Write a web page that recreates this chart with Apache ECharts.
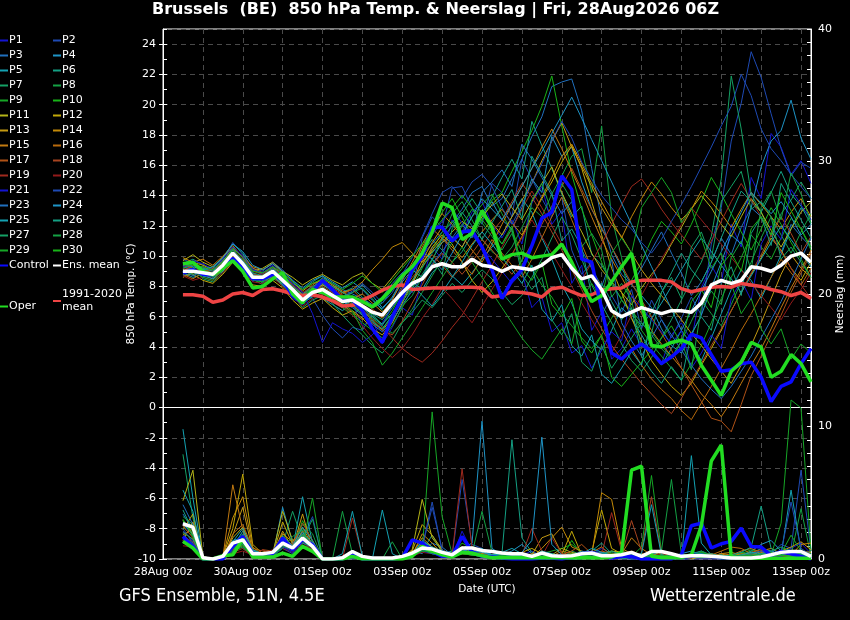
<!DOCTYPE html>
<html><head><meta charset="utf-8">
<script src="https://cdn.jsdelivr.net/npm/echarts@6/dist/echarts.min.js"></script>
<style>html,body{margin:0;padding:0;background:#000;}#c{width:850px;height:620px;}</style>
</head><body><div id="c"></div>
<script>
// ---------- text ----------
const titleText = 'Brussels  (BE)  850 hPa Temp. & Neerslag | Fri, 28Aug2026 06Z';
const footLeft = 'GFS Ensemble, 51N, 4.5E';
const footRight = 'Wetterzentrale.de';
const xTickLabels = ['28Aug 00z','30Aug 00z','01Sep 00z','03Sep 00z','05Sep 00z','07Sep 00z','09Sep 00z','11Sep 00z','13Sep 00z'];

// forecast valid times, hours after 28Aug 00z
const hours = [12,18,24,30,36,42,48,54,60,66,72,78,84,90,96,102,108,114,120,126,132,138,144,150,156,162,168,174,180,186,192,198,204,210,216,222,228,234,240,246,252,258,264,270,276,282,288,294,300,306,312,318,324,330,336,342,348,354,360,366,372,378,384,390];

// ---------- highlighted series ----------
const meanTemp = [9.0,9.0,8.9,8.8,9.4,10.2,9.5,8.6,8.6,9.0,8.4,7.8,7.1,7.6,7.8,7.4, 7.0,7.1,6.7,6.3,6.1,6.9,7.6,8.2,8.5,9.3,9.5,9.3,9.3,9.8,9.4,9.3, 9.0,9.3,9.2,9.1,9.4,9.9,10.1,9.2,8.5,8.7,7.8,6.4,6.0,6.3,6.6,6.4, 6.2,6.4,6.4,6.3,6.9,8.1,8.4,8.2,8.4,9.3,9.2,9.0,9.4,10.0,10.2,9.6];
const ctrlTemp = [8.9,9.1,8.8,8.75,9.3,9.85,9.2,8.5,8.5,8.8,8.4,7.4,6.9,7.65,8.4,7.8, 7.1,7.1,6.4,5.2,4.3,6.0,7.3,9.1,9.95,11.9,11.9,11.0,11.6,11.7,10.6,9.1, 7.2,8.4,9.1,10.7,12.5,12.9,15.3,14.4,9.8,9.6,6.5,3.6,3.2,3.8,4.2,3.7, 2.9,3.35,3.9,4.85,4.6,3.5,2.4,2.5,2.9,3.0,2.0,0.4,1.4,1.7,2.9,3.9];
const operTemp = [9.5,9.6,9.0,8.75,9.2,9.7,9.0,7.9,8.0,8.5,8.9,7.5,6.9,7.8,7.6,7.3, 7.3,7.3,7.0,6.65,7.2,7.9,8.7,9.3,10.2,11.6,13.5,13.2,11.1,11.5,13.0,11.9, 9.8,10.1,10.2,9.9,10.0,10.1,10.8,9.6,8.2,7.0,7.4,8.3,9.3,10.2,6.9,4.1, 4.0,4.3,4.45,4.2,2.8,1.8,0.8,2.4,3.0,4.3,4.0,2.0,2.4,3.5,2.9,1.7];
const climTemp = [7.45,7.45,7.35,6.95,7.1,7.5,7.6,7.4,7.8,7.85,7.7,7.5,7.4,7.45,7.3,7.05, 6.7,6.75,7.1,7.4,7.75,8.0,8.1,7.8,7.85,7.9,7.9,7.9,7.95,7.95,7.9,7.3, 7.4,7.65,7.6,7.5,7.3,7.85,7.95,7.65,7.4,7.45,7.75,7.85,7.9,8.3,8.4,8.4, 8.4,8.3,7.85,7.65,7.8,7.95,8.0,7.95,8.2,8.1,8.0,7.8,7.65,7.4,7.6,7.2];
const meanRain = [2.66,2.4,0.1,0,0.2,1.2,1.45,0.4,0.4,0.5,1.2,0.83,1.58,0.95,0,0, 0.1,0.57,0.2,0.07,0.07,0.07,0.2,0.45,0.83,0.75,0.5,0.32,0.83,0.83,0.65,0.57, 0.45,0.4,0.4,0.2,0.45,0.25,0.2,0.25,0.4,0.45,0.25,0.25,0.32,0.5,0.2,0.57, 0.57,0.4,0.2,0.25,0.25,0.2,0.15,0.07,0.07,0.07,0.15,0.32,0.5,0.57,0.57,0.2];
const ctrlRain = [1.7,0.95,0,0,0,0.95,1.7,0.4,0.32,0.4,1.58,0.7,1.45,1.08,0,0, 0,0.32,0,0,0,0,0.07,1.45,1.2,0.57,0.2,0.2,1.7,0.57,0.2,0.15, 0.07,0,0,0,0.07,0.07,0,0.15,0.4,0.5,0.2,0.07,0.2,0.2,0,0, 0,0,0.32,2.51,2.71,0.83,1.15,1.33,2.33,0.95,0.9,0.25,0.57,0.4,0.2,0];
const operRain = [1.33,0.83,0,0,0.25,0.32,1.5,0.15,0.15,0.15,0.45,0.2,0.95,0.57,0,0, 0,0.2,0,0,0,0,0,0.2,0.95,0.57,0.32,0.15,0.5,0.45,0.25,0.1, 0.1,0.1,0.1,0.1,0.1,0.1,0.1,0.1,0.1,0.1,0.1,0.15,0.5,6.7,7.0,0.2, 0.1,0.1,0.1,0.32,2.5,7.4,8.6,0.15,0.05,0.05,0.05,0.05,0.05,0.05,0.05,0.05];

// ---------- perturbation members: 850 hPa temperature ----------
const tempP01 = [9.4,9.1,8.6,8.9,9.6,10.5,9.2,8.3,8.9,9.4,8.1,7.2,6.8,7.9,8.3,7.6, 6.6,6.9,5.4,5.8,4.2,5.3,6.6,6.1,8.4,10.6,9.8,12.4,11.6,12.9,13.6,12.1, 11.2,12.4,10.8,13.5,14.6,12.1,13.0,8.2,9.4,5.1,6.3,3.2,3.9,5.2,4.1,3.6, 2.9,4.8,5.6,4.4,7.9,9.4,8.2,12.1,10.6,15.2,13.8,18.1,17.2,15.4,16.3,14.8];
const tempP02 = [9.8,9.5,9.2,9.0,9.8,10.9,10.1,9.2,9.0,9.6,9.1,8.4,7.6,7.2,6.1,5.2, 4.6,5.3,5.1,6.2,5.4,6.8,8.1,7.6,11.2,12.6,11.9,14.5,14.6,13.2,12.1,14.8, 14.2,12.6,16.4,15.1,13.8,12.6,13.9,10.4,8.8,9.6,6.1,7.4,6.3,7.8,5.2,7.1, 5.8,4.6,5.9,7.3,6.1,10.8,13.2,17.6,20.1,23.5,21.8,19.4,17.1,15.3,16.2,15.8];
const tempP03 = [8.7,8.9,9.3,8.6,9.1,9.8,9.6,8.8,8.2,8.7,8.8,8.1,7.4,7.9,8.6,8.2, 7.8,7.5,7.2,6.8,7.3,8.2,8.9,9.4,10.1,10.8,11.6,12.2,13.1,14.2,14.6,13.3, 13.8,15.1,16.4,17.9,19.2,21.2,21.5,21.7,19.6,15.8,12.4,10.1,8.8,8.1,9.2,10.4, 11.6,10.2,8.9,7.4,8.3,9.6,11.2,10.1,11.9,13.2,12.6,11.4,10.2,12.1,11.3,10.6];
const tempP04 = [9.2,9.4,9.0,8.7,9.3,10.1,9.8,8.9,8.4,8.8,8.6,7.9,7.3,7.8,8.1,7.7, 7.3,7.6,8.1,7.4,6.6,7.2,8.3,9.1,8.6,9.8,10.9,11.3,10.6,11.8,12.9,13.6, 12.4,11.8,13.2,15.1,14.2,17.9,16.6,17.2,14.9,13.1,11.8,10.6,9.2,8.1,7.4,6.6, 5.2,4.1,3.6,4.8,6.1,7.9,9.6,11.4,10.8,13.2,15.9,17.6,18.3,20.3,17.8,16.4];
const tempP05 = [8.9,8.6,8.8,9.1,9.6,10.6,9.4,8.4,8.7,9.2,8.3,7.6,6.9,7.4,7.2,6.8, 6.4,6.9,6.1,5.6,5.2,6.1,7.4,8.3,7.8,8.9,9.6,8.7,8.1,8.9,9.8,10.6, 11.4,12.6,13.8,12.9,11.2,9.8,8.1,6.9,5.2,4.4,3.8,5.1,6.6,5.9,4.8,3.6, 2.8,3.9,5.1,4.2,3.1,4.6,6.2,7.8,9.1,8.4,7.2,8.6,10.1,11.8,13.2,12.6];
const tempP06 = [9.5,9.8,9.4,9.2,9.9,10.8,10.2,9.1,8.8,9.3,8.7,8.2,7.8,8.3,8.7,8.1, 7.6,7.9,7.3,6.6,6.9,7.8,8.6,9.3,10.2,11.1,10.4,9.6,10.3,11.4,12.6,13.9, 15.2,16.4,15.1,18.9,17.3,15.8,14.1,12.6,13.3,10.1,9.4,8.3,7.1,6.2,5.4,6.3, 7.6,8.9,10.2,9.1,8.3,9.6,11.2,12.8,14.3,13.6,12.9,14.2,15.6,14.1,13.3,12.1];
const tempP07 = [9.0,9.3,8.5,8.3,8.9,9.7,9.1,8.5,8.1,8.5,8.2,7.4,6.6,7.1,7.4,6.9, 6.1,5.4,4.8,4.1,3.6,4.4,5.6,6.3,7.1,6.6,7.4,8.2,7.6,8.4,9.1,8.5, 7.6,6.8,7.4,8.6,9.8,11.2,12.6,11.4,9.8,8.1,6.8,5.6,4.2,3.1,2.4,3.3, 4.6,5.8,7.1,8.4,9.6,11.3,15.1,21.9,18.4,14.1,12.9,11.3,12.8,13.7,14.9,13.8];
const tempP08 = [9.3,9.0,8.7,8.9,9.5,10.4,9.7,8.7,8.6,9.1,8.5,7.8,7.2,7.6,7.9,7.5, 7.1,7.6,7.9,7.2,6.4,5.8,6.7,7.4,8.6,9.7,11.2,12.8,13.6,12.4,11.1,10.3, 9.8,10.6,11.9,13.2,12.6,14.1,15.3,16.6,17.1,14.2,18.6,12.6,9.9,6.4,5.6,4.8, 3.9,3.2,4.4,5.7,7.1,6.2,5.4,6.8,8.3,9.6,11.2,12.6,11.4,10.2,11.6,12.8];
const tempP09 = [8.8,9.1,9.2,8.8,9.2,10.0,9.3,8.6,8.5,8.9,8.0,7.5,7.0,7.7,8.0,7.3, 6.8,6.2,5.6,5.1,4.6,5.4,6.6,7.9,9.2,10.4,11.6,12.3,11.4,12.6,13.4,14.1, 12.8,11.6,10.3,9.2,8.1,7.3,6.2,5.4,4.6,3.9,4.8,5.9,7.1,6.4,5.1,4.2, 3.4,2.6,1.8,2.9,4.1,5.6,7.2,8.6,9.9,11.4,10.6,9.8,11.2,12.5,11.8,10.4];
const tempP10 = [9.6,9.2,9.0,8.6,9.2,10.3,9.6,8.4,8.3,8.8,8.4,7.7,7.3,7.9,7.6,7.0, 6.6,6.1,6.7,6.1,5.5,6.4,7.6,8.8,10.1,11.5,12.9,13.8,12.6,11.3,12.4,13.7, 14.2,15.6,16.9,18.3,19.9,21.9,18.6,15.4,13.1,11.4,9.6,8.1,7.2,8.4,9.6,11.1, 12.3,11.6,10.8,12.1,13.6,15.2,14.1,12.8,11.6,10.4,11.8,13.2,12.1,10.9,9.8,8.6];
const tempP11 = [9.7,10.1,9.6,9.3,9.9,10.6,9.9,9.0,9.2,9.6,9.0,8.6,8.1,8.5,8.8,8.4, 8.1,8.6,8.9,8.2,7.8,8.6,9.4,10.1,9.6,10.3,10.9,11.6,12.3,11.8,12.6,13.4, 14.1,13.2,12.4,13.6,14.8,15.9,14.2,12.8,11.6,10.2,9.1,8.3,7.6,6.8,7.9,8.8, 9.6,10.8,11.9,13.1,14.0,13.2,12.1,11.3,12.6,13.8,12.9,11.7,10.6,11.8,12.9,13.6];
const tempP12 = [9.1,8.8,8.4,8.2,8.8,9.6,8.9,8.1,8.0,8.4,7.9,7.1,6.5,6.9,7.2,6.6, 6.1,6.4,5.9,5.2,4.8,5.6,6.9,8.2,9.4,10.6,11.4,10.8,9.6,8.4,7.6,8.3, 9.2,10.1,11.3,12.6,13.8,14.9,16.2,17.3,15.8,13.6,11.4,9.2,7.6,5.9,4.4,3.1, 2.2,1.4,0.8,1.6,2.8,3.9,5.1,6.4,7.6,8.8,9.9,11.2,10.4,9.2,8.4,9.6];
const tempP13 = [8.6,8.9,9.1,8.7,9.0,9.9,9.4,8.6,8.5,8.7,8.3,7.9,7.2,7.8,8.1,7.8, 7.4,7.0,6.4,5.8,5.1,5.9,7.1,8.3,9.7,10.9,11.9,11.2,10.6,11.8,12.9,12.2, 11.4,12.6,13.7,14.8,16.3,17.6,18.8,17.2,15.9,14.6,13.2,12.1,11.3,10.2,9.1,8.2, 7.4,6.6,5.8,4.9,4.1,3.2,2.4,1.6,2.8,4.1,5.6,7.2,8.8,10.1,9.2,8.6];
const tempP14 = [9.9,9.6,9.4,9.1,9.7,10.5,10.0,9.3,9.1,9.5,8.9,8.3,7.7,8.2,8.4,8.0, 7.6,7.8,8.3,9.1,9.8,10.6,10.9,10.2,9.6,10.4,11.2,10.6,9.9,10.8,11.6,12.4, 13.1,12.2,11.4,12.6,13.9,15.2,16.6,17.4,16.1,14.8,13.6,12.4,11.2,12.6,13.8,14.9, 14.1,13.2,12.4,13.1,14.3,13.6,12.8,11.9,13.1,14.2,13.4,12.6,11.8,12.9,13.8,12.6];
const tempP15 = [9.3,9.6,9.8,9.4,10.0,10.7,9.9,9.2,8.9,9.3,8.8,8.0,7.4,8.1,8.5,8.1, 7.7,7.2,7.5,6.9,6.3,7.1,8.4,9.6,10.8,11.9,12.8,12.1,11.3,10.4,9.6,10.8, 12.1,13.4,14.6,15.8,17.2,18.4,17.1,15.6,14.2,12.6,11.1,9.8,8.6,7.4,6.2,5.1, 4.2,3.4,2.6,1.8,0.9,0.2,-0.6,0.4,1.6,2.8,3.9,5.2,6.6,7.9,9.1,10.4];
const tempP16 = [8.8,8.5,8.9,9.2,9.4,9.9,9.2,8.7,8.4,8.6,8.2,7.6,7.0,7.5,7.8,7.2, 6.8,6.3,5.8,6.4,5.9,6.8,7.9,9.2,10.6,11.8,11.2,10.4,9.6,8.8,9.9,11.1, 10.2,9.4,8.6,9.8,11.2,12.6,13.9,12.4,10.8,9.2,7.8,6.4,5.1,3.9,2.8,1.9, 1.2,0.6,-0.2,-0.8,0.3,1.4,2.6,3.8,5.1,6.2,7.4,8.6,9.8,8.9,8.1,9.2];
const tempP17 = [9.4,9.2,8.8,8.5,9.1,10.0,9.5,8.8,8.7,9.0,8.6,8.0,7.5,7.9,8.2,7.9, 7.5,7.8,7.1,6.5,6.0,6.8,7.7,8.6,9.3,10.1,9.4,8.6,9.3,10.2,11.1,10.4, 9.6,8.8,9.7,10.8,12.1,13.3,14.6,15.8,14.4,13.1,11.9,10.6,9.4,8.2,7.1,6.0, 4.9,3.8,2.6,1.5,0.4,-0.7,-0.9,-1.6,0.2,2.1,3.4,4.8,6.1,7.6,8.9,10.2];
const tempP18 = [9.0,9.4,9.1,8.9,9.5,10.2,9.6,8.9,8.5,8.9,8.5,7.7,7.1,7.7,8.0,7.6, 7.2,6.8,6.2,5.6,5.1,4.8,5.7,6.9,8.1,9.4,10.2,9.6,8.8,9.6,10.6,11.6, 12.4,13.6,14.8,13.9,12.8,11.6,10.4,9.1,7.8,6.4,5.2,4.1,3.2,2.4,1.6,0.9, 0.2,-0.4,0.6,1.8,2.9,4.1,5.2,6.4,7.6,8.9,10.1,11.4,12.6,11.5,10.2,11.3];
const tempP19 = [9.2,9.0,9.3,9.0,9.6,10.4,9.8,9.0,8.8,9.2,8.7,8.1,7.6,8.0,8.3,7.8, 7.4,7.0,6.5,5.9,5.3,4.6,3.9,3.4,3.0,3.6,4.4,5.3,6.1,7.2,8.3,9.4, 10.6,11.8,13.1,14.3,13.2,12.0,10.8,9.6,8.4,9.6,10.8,12.1,13.4,14.6,15.1,14.2, 13.1,12.2,11.4,10.6,9.8,11.0,12.3,13.6,14.8,13.7,12.6,11.4,10.3,9.2,8.1,7.2];
const tempP20 = [8.7,8.4,8.6,8.4,8.9,9.7,9.0,8.3,8.2,8.6,8.0,7.3,6.7,7.2,7.5,7.1, 6.7,6.1,5.4,4.6,3.9,3.3,3.9,4.8,5.9,6.8,7.9,7.2,6.4,5.6,6.7,7.8, 8.9,10.1,11.2,12.4,11.3,10.2,9.1,8.0,6.9,5.8,4.7,3.6,4.8,6.1,7.4,8.6, 9.8,10.9,12.1,13.2,12.4,11.6,10.8,9.9,9.1,8.2,7.4,6.6,5.8,6.9,7.8,8.9];
const tempP21 = [9.3,9.7,9.5,9.1,9.8,10.6,10.0,9.1,8.9,9.4,8.8,8.2,7.6,6.2,4.3,5.6, 5.2,4.9,4.3,4.8,5.6,6.6,7.8,9.0,10.2,11.4,12.3,13.1,12.2,11.4,10.6,9.8, 9.0,8.2,8.9,6.6,7.3,5.0,5.6,3.6,4.1,2.6,3.8,5.0,4.4,7.4,6.6,5.8, 5.0,4.2,5.1,2.6,3.6,4.8,3.9,7.2,8.4,7.1,10.8,12.0,11.1,14.4,13.4,12.4];
const tempP22 = [8.9,9.2,8.8,8.6,9.3,10.1,9.3,8.5,8.6,9.1,8.4,7.8,7.3,7.8,8.2,7.7, 7.3,7.7,8.2,7.6,6.9,7.6,8.8,9.9,11.3,12.8,14.2,14.6,13.8,14.9,15.4,14.6, 13.2,12.1,13.4,14.8,16.1,17.6,18.9,17.8,16.2,15.1,14.0,13.2,12.4,11.8,10.9,10.2, 11.1,12.3,13.4,14.6,15.9,17.2,18.6,19.9,22.0,20.6,18.4,17.1,16.3,15.4,14.6,13.8];
const tempP23 = [9.1,8.7,9.0,8.8,9.4,10.2,9.7,8.8,8.4,8.8,8.3,7.6,7.0,7.5,7.9,7.4, 7.0,6.6,6.1,5.5,5.0,5.7,6.8,7.7,8.6,9.5,10.3,11.2,12.1,11.2,14.2,14.9, 15.7,14.6,17.4,16.4,15.2,14.0,12.8,13.6,10.4,9.2,8.0,9.8,5.6,4.4,3.4,4.6, 5.8,4.8,3.8,2.8,1.9,1.2,0.6,1.4,2.4,3.4,4.6,5.8,7.0,8.4,9.8,11.2];
const tempP24 = [9.5,9.3,9.1,9.3,9.9,10.8,10.3,9.4,9.1,9.5,9.0,8.4,7.9,8.4,8.7,8.3, 7.9,8.3,7.8,7.1,6.5,7.3,8.5,9.4,10.3,9.8,9.1,10.2,11.4,12.6,13.8,13.1, 12.4,13.4,14.6,15.8,16.9,18.1,19.3,20.5,19.1,17.7,16.3,14.9,13.5,12.1,10.7,9.3, 7.9,6.5,5.1,6.4,7.7,9.0,10.3,11.6,12.9,14.2,13.5,12.8,13.6,12.6,11.4,12.1];
const tempP25 = [8.8,9.1,8.7,8.5,9.0,9.8,9.2,8.6,8.3,8.7,8.1,7.5,6.9,7.3,7.6,7.1, 6.7,7.1,6.6,6.0,5.5,6.2,7.2,8.1,7.4,6.7,7.6,8.6,9.6,10.7,11.6,10.8, 9.9,9.1,8.2,9.4,6.5,5.7,6.8,4.1,3.4,4.8,2.2,1.6,2.6,3.7,2.8,5.9, 6.9,8.0,9.1,10.2,11.2,10.3,9.4,8.5,7.6,8.7,9.8,10.9,12.0,11.1,10.2,9.3];
const tempP26 = [9.4,9.6,9.2,9.0,9.7,10.4,9.7,8.9,8.7,9.2,8.6,8.0,7.5,8.0,8.3,8.0, 7.6,7.2,6.7,6.2,5.8,6.6,7.5,8.4,9.3,10.2,11.1,12.0,12.9,12.0,11.1,12.2, 13.3,14.4,12.5,16.6,15.4,14.2,11.0,11.8,10.6,7.4,8.2,7.0,5.8,6.6,3.4,2.4, 1.6,2.7,1.8,4.9,6.0,5.1,8.2,9.3,7.4,11.5,12.6,10.7,14.8,13.6,12.4,11.2];
const tempP27 = [9.0,8.8,9.0,8.8,9.3,10.1,9.5,8.6,8.5,8.9,8.3,7.6,7.1,7.6,7.9,7.5, 7.1,6.7,6.2,5.7,5.2,6.0,7.0,7.9,8.8,9.8,8.8,11.8,12.8,13.8,12.8,11.8, 10.8,11.8,8.8,7.8,8.6,5.8,4.8,6.2,3.0,2.4,4.1,2.6,3.6,4.6,5.6,4.9, 7.6,8.6,7.2,10.6,11.6,9.8,13.6,14.6,15.6,13.1,13.6,12.6,9.8,10.6,9.6,8.6];
const tempP28 = [9.2,9.5,8.9,8.7,9.4,10.3,9.6,8.7,8.6,9.0,8.5,7.9,7.4,7.9,8.2,7.7, 7.3,6.9,6.4,5.9,5.4,4.9,5.6,6.5,7.6,8.7,9.8,10.9,12.0,13.1,12.2,11.3, 10.4,11.5,9.6,13.7,14.8,12.9,14.8,13.7,10.6,11.5,10.4,7.3,8.2,7.1,4.0,5.0, 4.1,3.3,4.4,2.5,6.6,7.7,6.8,9.9,11.0,9.1,13.2,14.3,12.4,15.5,14.1,12.2];
const tempP29 = [8.9,9.0,8.6,8.4,9.1,9.9,9.3,8.5,8.3,8.8,8.2,7.5,6.9,7.4,7.8,7.3, 6.9,6.4,5.1,4.3,2.8,3.6,4.6,5.6,6.6,7.6,8.6,9.6,10.6,9.6,8.6,7.6, 6.6,5.6,4.6,3.8,3.2,4.2,5.2,4.2,7.2,8.2,7.2,10.2,11.2,10.2,13.2,14.2, 15.2,14.2,12.2,13.2,11.2,9.2,10.2,8.2,6.2,7.2,5.2,4.2,5.2,3.2,4.2,3.6];
const tempP30 = [9.6,9.4,9.3,9.1,9.6,10.5,9.9,9.0,8.9,9.3,8.9,8.3,7.8,8.2,8.5,8.2, 7.8,8.2,8.7,8.2,7.6,8.4,9.2,10.0,10.8,11.6,12.4,13.2,14.0,13.2,12.4,11.6, 10.8,12.0,9.2,8.4,9.6,6.8,6.0,7.2,4.4,3.6,4.8,2.0,1.4,2.2,3.0,3.8, 4.6,5.4,4.2,7.0,7.8,6.6,9.4,10.2,9.0,11.8,12.6,11.4,14.2,13.0,11.8,10.6];

// ---------- perturbation members: precipitation (mm) ----------
const rainP01 = [1.6,1.2,0,0,0,0.8,1.4,0.4,0.2,0.3,1.1,0.6,1.3,0.9,0,0, 0,0.2,0,0,0,0,0,0.4,1.2,0.8,0.3,0.1,2.1,0.6,0.4,0.2, 0,0,0.3,0.6,0.2,0,0,0,0.1,0.3,0.8,0.4,0.2,0,0,0.3, 0.6,0.2,0,0,0,0,0,0.2,0.5,0.3,0,0,0.4,0.8,1.2,0.4];
const rainP02 = [2.1,1.4,0,0,0.1,1.2,0.9,0.3,0.3,0.2,0.8,0.4,1.6,3.2,0,0, 0,0,0.1,0,0,0,0,0.2,0.9,4.3,0.6,0.2,6.0,1.1,0.8,0.3, 0.2,0.1,0,0.4,0.3,0,0.1,0,0,0.2,0.4,0.1,0,0,0.2,0.1, 0,0,0,0.3,0.6,0.2,0,0.1,0,0,0.2,0.4,1.1,0.8,6.7,0.6];
const rainP03 = [3.4,2.2,0,0,0,0.6,1.8,0.5,0.2,0.4,1.3,0.9,0.8,1.1,0,0, 0.2,0.4,0,0,0,0,0.1,0.6,0.4,1.2,0.9,0.3,0.6,0.8,0.3,0.2, 0.4,0.2,0.1,0.3,0.5,0.2,0,0,0.1,0,0.2,0.3,0.1,0,0,0.2, 0.3,0.1,0,0,0.2,0.4,0.1,0,0,0.3,0.6,0.2,0.1,0.3,0.5,0.1];
const rainP04 = [2.6,1.9,0,0,0.2,1.4,1.6,0.6,0.4,0.2,3.9,1.2,1.8,0.7,0,0, 0,0.3,0,0,0,0,0,0.3,1.4,0.9,0.4,0.6,0.8,1.2,10.4,0.8, 0.3,0.6,1.1,0.4,0.2,0.1,0,0,0.2,0.4,0.3,0.1,0.2,0,0.1,0, 0,0.2,0.4,0.6,0.3,0.1,0,0,0.2,0.6,1.1,1.4,0.6,0.3,0.1,0.2];
const rainP05 = [9.8,4.6,0.2,0,0,0.9,2.1,0.6,0.3,0.2,1.4,0.8,4.7,1.2,0,0, 0,0.2,0,0,0,0,0,0.5,0.8,0.6,0.4,0.2,0.6,0.4,0.8,0.3, 0.5,0.8,0.4,0.2,0.6,0.3,0.1,0,0,0.3,0.5,0.2,0.1,0,0.2,0.4, 0.3,0.1,0,7.8,1.2,0.3,0.1,0,0.2,0.4,0.8,0.6,0.3,5.2,0.6,0.4];
const rainP06 = [2.8,2.4,0,0,0.1,1.1,1.9,0.4,0.2,0.3,1.6,0.6,2.2,0.8,0,0, 0,0.1,0,0,0,0,0,0.2,0.6,1.8,0.5,0.3,0.9,0.5,0.2,0.6, 0.4,9.0,1.6,0.5,0.3,0.2,0,0.1,0.3,0.6,1.2,0.4,0.2,0.1,0,0.3, 0.2,0,0.1,0.4,0.6,0.3,0,0,0,0.2,0.4,0.3,0.2,0.1,0.4,0.3];
const rainP07 = [7.9,3.1,0,0,0,0.7,1.2,0.3,0.4,0.6,1.1,3.6,1.4,0.6,0,0, 0,0.2,0,0,0,0,0,0.3,0.7,0.4,0.3,0.2,0.5,0.6,0.4,0.2, 0.3,0.1,0.2,0.1,0.4,0.2,0.1,0.6,0.3,0.2,0.4,0.2,0.1,0,0.1,0.2, 0.4,0.3,0,0.2,0.5,0.2,0,0.1,0.3,0.6,0.2,0.1,0.4,0.3,0.2,0.1];
const rainP08 = [3.2,2.6,0,0,0.2,1.3,0.8,0.2,0.5,0.4,1.8,1.0,2.6,1.9,0,0, 3.6,0.4,0,0,0,1.3,0,0.2,0.8,0.6,0.4,0.2,0.6,0.4,3.6,0.5, 0.3,0.2,0.1,0.3,0.5,0.4,0.2,0,0.1,0.2,0.3,0.5,0.2,0.1,0,0.3, 0.1,0,0.2,0.1,0.6,0.2,0.1,0,0.2,0.3,0.6,0.2,0.4,0.3,3.8,0.2];
const rainP09 = [1.9,1.1,0,0,0,0.4,1.1,0.3,0.2,0.1,0.9,0.7,1.1,4.6,0,0, 0,0.2,0,0,0,0,0,0.3,0.6,11.1,3.2,0.4,0.7,0.5,0.3,0.2, 0.1,0.2,0.3,0.1,0.4,0.6,0.8,1.1,0.5,0.2,0.3,0.6,0.4,0.2,0.9,6.3, 0.6,0.4,0.2,0.1,0.5,0.3,0.2,0.1,0.4,0.7,0.5,0.3,2.7,12.0,11.4,0.6];
const rainP10 = [2.4,1.7,0,0,0.1,0.8,1.6,0.4,0.3,0.2,1.2,0.8,2.9,1.3,0,0, 0,0.2,0,0,0,0,0,0.4,1.1,0.7,0.5,0.3,1.2,0.8,0.6,0.2, 0.3,0.2,0.4,0.1,0.3,0.2,0.1,1.4,0.3,0.4,0.2,0.3,0.6,0.4,0.3,0.2, 0.4,0.3,0.3,0.2,0.1,0.3,0.2,0.2,0.5,0.3,0.4,0.2,0.3,0.5,0.4,0.2];
const rainP11 = [4.4,6.7,0.2,0,0.1,1.6,2.4,0.7,0.3,0.4,3.6,1.4,1.8,0.9,0,0, 0,0.3,0,0,0,0,0.1,0.7,4.5,1.6,0.6,0.4,0.9,0.7,0.4,0.3, 0.2,0.1,0.3,0.2,0.6,0.3,0.8,0.5,0.3,0.2,0.4,0.6,0.5,0.3,0.4,0.2, 0.6,0.3,0.1,0,0.2,0.4,0.1,0,0.3,0.2,0.4,0.3,0.1,0.2,0.4,0.3];
const rainP12 = [2.2,3.4,0,0,0.2,2.3,6.4,1.1,0.4,0.3,2.8,1.1,1.6,1.2,0,0, 0,0.4,0,0,0,0,0.2,0.6,2.6,1.8,0.7,0.3,0.8,0.9,0.4,0.2, 0.1,0.3,0.5,0.8,0.4,0.2,0.3,2.1,0.3,0.5,3.7,0.8,0.4,0.2,0.1,0.3, 0.2,0.4,0.1,0,0.3,0.2,0.4,0.1,0.2,0.3,0.6,0.4,0.2,0.3,0.6,0.5];
const rainP13 = [1.4,2.8,0,0,0,1.8,3.9,0.6,0.2,0.3,2.1,0.8,3.4,0.7,0,0, 0,0.2,0,0,0,0,0.1,0.4,1.6,0.9,0.6,0.2,0.5,0.4,0.3,0.2, 0.2,0.1,0.4,0.3,1.6,1.9,0.4,0.2,0.3,0.2,0.5,0.4,0.2,0.1,0.2,0.4, 0.1,0.2,0,0.1,0.3,0.2,0.4,0.5,0.3,0.4,0.2,0.3,0.6,0.9,1.3,0.7];
const rainP14 = [2.9,1.9,0,0,0.2,3.1,4.7,0.9,0.3,0.5,1.9,1.3,2.4,1.0,0,0, 0,0.2,0,0,0,0,0,0.3,1.9,1.2,0.4,0.2,0.6,0.5,0.2,0.1, 0.3,0.4,0.2,0.1,0.8,1.6,2.4,0.9,0.6,0.3,5.0,4.5,0.8,0.4,0.2,0.6, 0.4,0.3,0.2,0.1,0.2,0.1,0.3,0.2,0.4,0.3,0.6,0.8,0.4,0.3,1.1,1.2];
const rainP15 = [1.8,2.3,0,0,0.1,5.6,2.2,0.4,0.3,0.2,1.4,0.9,2.1,0.8,0,0, 0,0.3,0,0,0,0,0,0.2,1.2,0.7,0.5,0.3,0.4,0.6,0.3,0.2, 0.2,0.3,0.2,0.4,0.3,0.2,0.6,0.4,0.2,0.5,0.9,0.3,0.4,1.6,0.8,0.3, 0.2,0.3,0.1,0.2,0.3,0.2,0.4,0.3,0.6,0.8,0.5,0.3,0.2,0.4,0.3,0.2];
const rainP16 = [2.0,1.5,0,0,0,1.9,2.6,0.8,0.6,0.4,1.6,0.7,1.9,1.1,0,0, 0,0.2,0,0,0,0,0,0.3,0.9,0.6,0.4,0.2,0.7,0.5,0.4,0.2, 0.3,0.2,0.1,0.3,0.5,0.3,0.2,0.4,0.3,0.2,0.6,0.4,0.3,0.2,0.4,0.3, 0.2,0.1,0.3,0.2,0.1,0.3,0.6,0.9,0.8,0.4,0.3,0.2,0.3,0.4,0.3,0.2];
const rainP17 = [1.2,1.0,0,0,0.1,1.1,1.4,0.3,0.7,0.6,1.2,0.8,1.5,0.9,0,0, 0,0.3,0,0,0,0,0,0.2,0.6,0.5,0.3,0.2,0.4,0.3,0.2,0.1, 0.2,0.1,0.2,0.3,0.4,0.2,0.3,0.6,1.1,0.4,0.3,0.2,0.4,0.6,0.3,0.2, 0.3,0.2,0.1,0.2,0.3,0.4,0.2,0.1,0.2,0.5,0.7,0.4,0.2,0.3,0.2,0.1];
const rainP18 = [2.5,1.6,0,0,0,0.7,1.0,0.5,0.3,0.4,1.5,1.1,2.7,1.4,0,0, 0,0.4,0,0,0,0,0,0.2,0.7,0.6,0.3,0.3,0.8,0.4,0.5,0.2, 0.1,0.2,0.1,0.2,0.3,0.1,0.2,0.3,0.2,0.3,0.5,0.4,0.3,2.9,0.6,4.7, 0.4,0.3,0.2,0.1,0.2,0.1,0.2,0.1,0.3,0.2,0.4,0.2,0.1,0.2,0.3,0.1];
const rainP19 = [1.7,1.3,0,0,0,0.5,0.8,0.2,0.7,0.3,1.0,0.6,1.4,0.8,0,0, 0,3.1,0.2,0,0,0,0,0.3,0.8,0.5,0.4,0.3,6.8,0.9,0.3,0.2, 0.2,0.1,0.3,2.3,0.6,0.3,0.2,0.1,0.4,0.2,0.3,3.5,0.6,0.3,0.2,0.1, 0.2,0.1,0.2,0.1,0.3,0.1,0.2,0.1,0.2,0.3,0.1,0.2,0.1,0.2,0.1,0];
const rainP20 = [1.0,0.9,0,0,0,0.4,0.6,0.3,0.4,0.7,0.8,0.5,1.2,0.7,0,0, 0,0.2,0,0,0,0,0,0.2,0.5,0.4,0.3,0.2,0.4,0.3,0.2,0.1, 0.2,0.3,0.1,0.2,0.2,1.6,0.4,0.2,0.1,0.3,0.2,0.4,0.2,0.1,0.3,0.2, 0.4,0.2,0.1,0.1,0.2,0.1,0.1,0.2,0.1,0.3,0.2,0.1,0.2,0.1,0.2,0.1];
const rainP21 = [1.5,0.8,0,0,0,0.6,1.2,0.2,0.2,0.1,0.9,0.5,1.0,0.6,0,0, 0,0.1,0,0,0,0,0,0.2,0.6,0.4,0.2,0.1,0.5,0.3,0.2,0.1, 0.1,0,0.2,0.1,0.3,0.2,0,0,0.1,0.2,0.3,0.1,0.2,0,0.1,0.2, 0.1,0,0,0.1,0.2,0.1,0,0,0.1,0.2,0.3,0.1,0.2,0.4,0.2,0.1];
const rainP22 = [2.3,1.2,0,0,0.1,0.9,1.3,0.4,0.3,0.2,1.0,0.6,1.7,1.0,0,0, 0,0.2,0,0,0,0,0,0.3,0.9,3.9,0.7,0.2,0.6,0.4,0.3,0.2, 0.2,0.1,0.3,0.2,0.4,0.2,0.1,0,0.2,0.3,0.5,0.2,0.1,0.2,0.1,0.3, 0.2,0.1,0.1,0.2,0.3,0.1,0,0.1,0.2,0.4,0.6,0.3,0.5,4.3,0.8,0.3];
const rainP23 = [4.1,2.6,0,0,0,1.0,1.5,0.6,0.4,0.3,1.3,0.7,1.2,0.9,0,0, 0,0.3,0,0,0,0,0,0.3,0.7,0.5,0.4,0.2,0.5,0.9,0.6,0.3, 0.2,0.4,0.2,0.1,0.5,0.3,0.1,0.2,0.3,0.6,0.4,0.2,0.1,0.2,0.3,0.2, 0.1,0.2,0.3,0.2,0.4,0.2,0.1,0,0.3,0.2,0.4,0.6,0.3,0.5,0.4,0.2];
const rainP24 = [2.7,1.8,0,0,0.2,1.2,1.7,0.5,0.3,0.2,1.1,0.9,2.0,1.2,0,0, 0,0.2,0,0,0,0,0,0.2,0.8,0.5,0.6,0.3,0.7,0.5,0.6,0.2, 0.3,0.2,0.5,1.4,9.2,1.1,0.3,0.2,0.6,0.4,0.3,0.2,0.2,0.3,0.2,0.1, 0.3,0.2,0.1,0.2,0.1,0.2,0.3,0.1,0.2,0.3,0.2,0.4,0.3,0.6,0.4,0.2];
const rainP25 = [5.2,3.6,0.1,0,0,1.3,2.3,0.7,0.4,0.3,1.7,1.0,2.4,1.4,0,0, 0.4,3.6,0.2,0,3.7,0.4,0,0.4,1.3,0.9,0.6,0.4,0.9,0.6,0.5,0.3, 0.4,0.2,0.3,0.2,0.6,0.4,0.2,0.3,0.4,0.8,0.5,0.3,0.2,0.3,0.4,4.1, 0.3,0.2,0.1,0.3,0.4,0.2,0.1,0.2,0.3,0.5,0.4,0.3,0.6,0.4,0.3,0.2];
const rainP26 = [3.7,2.1,0,0,0.1,1.0,1.4,0.3,0.2,0.4,1.4,0.8,1.9,0.9,0,0, 0,0.2,0,0,0,0,0,0.3,0.6,0.8,0.5,0.2,0.6,0.4,0.3,0.2, 0.3,0.2,0.1,0.2,0.4,0.2,0.3,0.2,0.3,0.2,0.4,0.6,0.3,0.2,0.1,0.3, 0.2,0.1,0.3,0.2,0.3,0.4,0.2,0.3,0.5,0.9,4.0,0.8,0.3,0.2,0.2,0.1];
const rainP27 = [2.0,1.5,0,0,0,0.8,1.1,0.4,0.3,0.2,1.0,0.7,1.5,3.0,0,0, 0,0.2,0,0,0,0,0,0.2,0.7,0.4,0.3,0.2,0.6,0.3,0.2,0.1, 0.2,0.3,0.2,0.1,0.2,0.3,0.1,0.2,0.4,0.2,0.3,0.2,0.1,0.3,0.2,0.3, 0.2,0.1,0.3,0.2,0.1,0.2,0.3,0.1,0.2,0.4,0.3,0.6,0.9,0.6,0.4,0.3];
const rainP28 = [1.3,1.0,0,0,0,0.6,0.9,0.2,0.2,0.3,0.8,1.7,2.2,0.8,0,0, 0,0.2,0,0,0,0,0,0.3,1.0,0.6,0.4,0.2,0.5,0.4,0.3,0.2, 0.2,0.1,0.2,0.3,0.5,0.2,0.1,0.2,0.3,0.4,0.2,0.3,0.2,0.3,0.2,0.4, 0.6,6.0,0.4,0.2,0.1,0.2,0.1,0.2,0.3,0.2,0.4,0.2,0.3,0.2,0.5,0.2];
const rainP29 = [2.9,2.0,0,0,0.1,1.0,1.2,0.3,0.3,0.2,1.2,0.9,1.8,1.0,0,0, 0,0.2,0,0,0,0,0,0.2,0.6,0.5,0.3,0.2,0.4,0.3,0.2,0.1, 0.3,0.1,0.2,0.1,0.3,0.2,0.1,0.2,0.2,0.1,0.2,0.3,0.1,0.2,0.3,0.2, 0.1,0.2,0.1,0.3,0.2,0.1,0.2,0.1,0.2,0.3,0.2,0.5,0.4,1.8,0.6,0.3];
const rainP30 = [3.0,1.7,0,0,0,0.9,1.0,0.3,0.4,0.3,1.1,0.8,1.3,0.9,0,0, 0,0.3,0,0,0,0,0,0.3,0.9,0.5,0.3,0.2,0.4,0.3,0.2,0.2, 0.1,0.2,0.1,0.3,0.4,0.3,0.2,0.4,0.3,0.2,0.3,0.4,0.2,0.3,0.2,0.1, 0.3,0.2,0.1,0.2,0.3,0.2,0.1,0.2,0.1,0.2,0.3,0.2,0.3,0.2,0.3,0.1];

// ---------- styling ----------
const pertColors = ['#1414d2','#1e4ab4','#2070be','#1e94c6','#14a2b2','#14a084','#14a064','#14a044','#16a626','#18b418',
                    '#b4b418','#c2a808','#c49a12','#c48a08','#c27a10','#b86a0c','#b05216','#a84420','#a02a1e','#921a1a',
                    '#1414d2','#1e4ab4','#2070be','#1e94c6','#14a2b2','#14a084','#14a064','#14a044','#16a626','#18b418'];
const ctrlColor = '#0a0aff', meanColor = '#ffffff', climColor = '#ee4444', operColor = '#22dd22';
const FONT = 'DejaVu Sans';

const pertTemps = [tempP01,tempP02,tempP03,tempP04,tempP05,tempP06,tempP07,tempP08,tempP09,tempP10,tempP11,tempP12,tempP13,tempP14,tempP15,tempP16,tempP17,tempP18,tempP19,tempP20,tempP21,tempP22,tempP23,tempP24,tempP25,tempP26,tempP27,tempP28,tempP29,tempP30];
const pertRains = [rainP01,rainP02,rainP03,rainP04,rainP05,rainP06,rainP07,rainP08,rainP09,rainP10,rainP11,rainP12,rainP13,rainP14,rainP15,rainP16,rainP17,rainP18,rainP19,rainP20,rainP21,rainP22,rainP23,rainP24,rainP25,rainP26,rainP27,rainP28,rainP29,rainP30];

[...pertTemps, ...pertRains, meanTemp, ctrlTemp, operTemp, climTemp, meanRain, ctrlRain, operRain].forEach((a, k) => {
  if (a.length !== hours.length) throw new Error('array ' + k + ' has length ' + a.length);
});

const pair = arr => hours.map((h, j) => [h, arr[j]]);
const mkLine = (name, arr, axis, color, width) => ({
  name, type: 'line', yAxisIndex: axis, data: pair(arr), symbol: 'none', showSymbol: false,
  lineStyle: { color, width }, itemStyle: { color }, silent: true, animation: false,
  emphasis: { disabled: true }
});

const series = [];
pertTemps.forEach((a, k) => series.push(mkLine('P' + (k + 1), a, 0, pertColors[k], 1)));
pertRains.forEach((a, k) => series.push(mkLine('P' + (k + 1), a, 1, pertColors[k], 1)));
series.push(mkLine('1991-2020 mean', climTemp, 0, climColor, 3.5));
series.push(mkLine('Control', ctrlTemp, 0, ctrlColor, 3.5));
series.push(mkLine('Control', ctrlRain, 1, ctrlColor, 3.5));
series.push(mkLine('Oper', operTemp, 0, operColor, 3.5));
series.push(mkLine('Oper', operRain, 1, operColor, 3.5));
series.push(mkLine('Ens. mean', meanTemp, 0, meanColor, 3.5));
series.push(mkLine('Ens. mean', meanRain, 1, meanColor, 3.5));

const col1 = [], col2 = [];
for (let k = 1; k <= 30; k++) (k % 2 ? col1 : col2).push('P' + k);
col1.push('Control'); col2.push('Ens. mean');

const legendBase = {
  orient: 'vertical', icon: 'rect', itemWidth: 8, itemHeight: 2, itemGap: 2, padding: 0,
  selectedMode: false,
  textStyle: { color: '#ffffff', fontSize: 11, fontFamily: FONT, lineHeight: 13, padding: [0, 0, 0, -4] }
};

const chart = echarts.init(document.getElementById('c'), null, { renderer: 'canvas' });
chart.setOption({
  backgroundColor: '#000000',
  animation: false,
  title: [
    { text: titleText, left: 152, top: 2, padding: 0, textStyle: { color: '#fff', fontSize: 16, fontWeight: 'bold', fontFamily: FONT } },
    { text: footLeft, left: 119, top: 587, padding: 0, textStyle: { color: '#fff', fontSize: 18, fontWeight: 'normal', fontFamily: 'DejaVu Sans Condensed, ' + FONT } },
    { text: footRight, left: 650, top: 587, padding: 0, textStyle: { color: '#fff', fontSize: 18, fontWeight: 'normal', fontFamily: 'DejaVu Sans Condensed, ' + FONT } }
  ],
  legend: [
    Object.assign({}, legendBase, { data: col1, left: 0, top: 34 }),
    Object.assign({}, legendBase, { data: col2, left: 53, top: 34 }),
    Object.assign({}, legendBase, { data: ['1991-2020 mean'], left: 53, top: 288, formatter: n => '1991-2020\nmean' }),
    Object.assign({}, legendBase, { data: ['Oper'], left: 0, top: 300 })
  ],
  grid: { left: 163, right: 39, top: 29, bottom: 61, show: true, borderColor: '#ffffff', borderWidth: 1,
          containLabel: false, outerBoundsMode: 'none' },
  xAxis: {
    type: 'value', min: 0, max: 390, interval: 24,
    name: 'Date (UTC)', nameLocation: 'middle', nameGap: 25, nameMoveOverlap: false,
    nameTextStyle: { color: '#fff', fontSize: 10.5, fontFamily: FONT },
    axisLine: { show: true, lineStyle: { color: '#fff', width: 1 } },
    axisTick: { show: false },
    axisLabel: { color: '#fff', fontSize: 11, fontFamily: FONT, margin: 8, showMaxLabel: false,
      formatter: v => (v % 48 === 0 ? (xTickLabels[v / 48] || '') : '') },
    splitLine: { show: true, lineStyle: { color: '#4a4a4a', type: [5, 4], width: 1 } }
  },
  yAxis: [
    {
      type: 'value', min: -10, max: 25, interval: 2, position: 'left',
      name: '850 hPa Temp. (°C)', nameLocation: 'middle', nameGap: 26, nameRotate: 90, nameMoveOverlap: false,
      nameTextStyle: { color: '#fff', fontSize: 10.5, fontFamily: FONT },
      axisLine: { show: true, lineStyle: { color: '#fff', width: 1 } },
      axisTick: { show: true, inside: false, length: 4, lineStyle: { color: '#fff' } },
      axisLabel: { color: '#fff', fontSize: 11, fontFamily: FONT, margin: 7, showMaxLabel: false },
      splitLine: { show: true, lineStyle: { color: '#4a4a4a', type: [5, 4], width: 1 } }
    },
    {
      type: 'value', min: 0, max: 40, interval: 10, position: 'right',
      name: 'Neerslag (mm)', nameLocation: 'middle', nameGap: 24, nameRotate: 90, nameMoveOverlap: false,
      nameTextStyle: { color: '#fff', fontSize: 10.5, fontFamily: FONT },
      axisLine: { show: true, lineStyle: { color: '#fff', width: 1 } },
      axisTick: { show: true, inside: true, length: 4, lineStyle: { color: '#fff' } },
      minorTick: { show: true, splitNumber: 10, length: 4, lineStyle: { color: '#fff' } },
      axisLabel: { color: '#fff', fontSize: 11, fontFamily: FONT, margin: 7 },
      splitLine: { show: false }
    },
    {
      type: 'value', min: -10, max: 25, interval: 1, position: 'left',
      axisLine: { show: false }, axisLabel: { show: false }, splitLine: { show: false },
      axisTick: { show: true, inside: true, length: 4, lineStyle: { color: '#fff' } }
    }
  ],
  series
});
</script></body></html>
